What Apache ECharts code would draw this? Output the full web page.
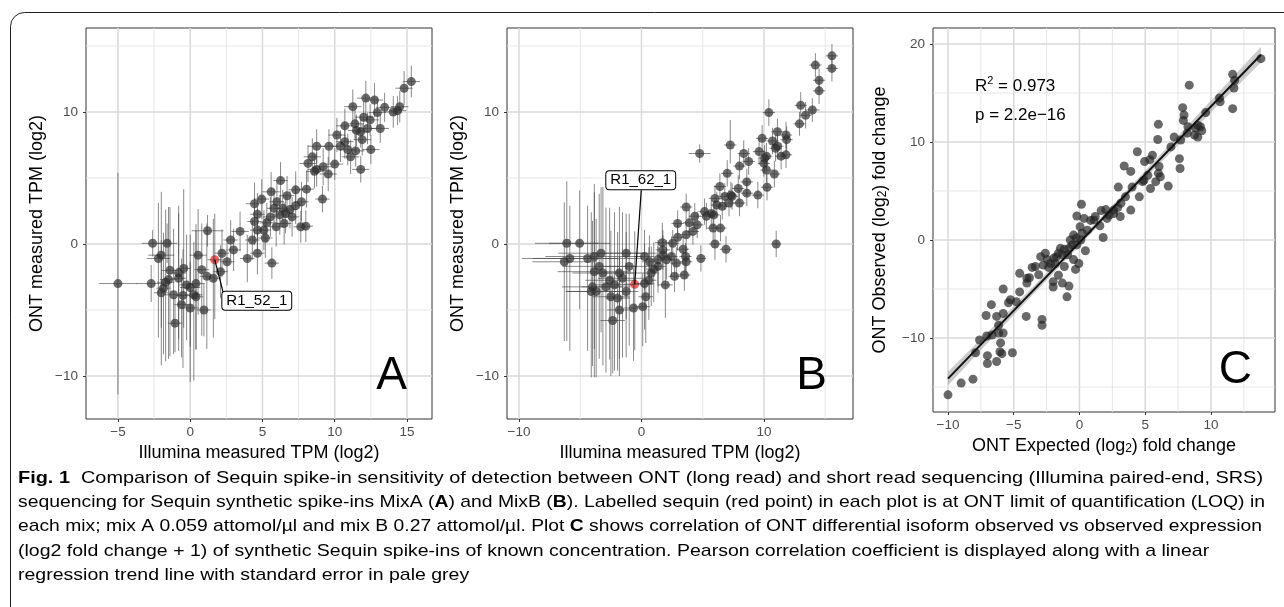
<!DOCTYPE html>
<html>
<head>
<meta charset="utf-8">
<title>Sequin spike-in detection: ONT vs Illumina</title>
<script src="https://cdn.jsdelivr.net/npm/echarts@6/dist/echarts.min.js"></script>
<style>
  html, body { margin: 0; padding: 0; background: #fff; }
  #main { width: 1284px; height: 607px; }
</style>
</head>
<body>
<div id="main"></div>
<script>
// ---- data ----
// mix A / mix B: [illumina log2 TPM, ONT log2 TPM, x error, y error up, y error down]
var mixA = [
  [-5.0,-3.0,1.3,8.4,8.4],[-2.6,0.05,0.75,1.0,1.0],[-2.7,-3.0,1.05,1.4,1.4],[-1.6,0.05,0.7,1.5,1.5],
  [-2.0,-0.85,0.9,4.8,5.5],[-2.2,-1.1,0.8,4.2,6.0],[-1.4,-2.0,0.6,4.8,6.5],[-0.45,-1.85,0.5,6.0,4.5],
  [-1.5,-2.7,0.6,5.5,6.0],[-0.8,-2.6,0.5,5.5,5.5],[-1.85,-3.35,0.5,4.2,5.0],[-1.15,-3.85,0.6,5.0,4.5],
  [-0.25,-3.1,0.5,3.8,4.2],[0.0,-3.3,0.7,4.0,4.5],[0.25,-3.85,0.6,4.0,6.5],[0.0,-4.85,0.6,3.5,5.6],
  [0.95,-5.0,0.5,2.0,2.0],[-1.05,-6.0,0.5,2.0,2.2],[0.55,-0.85,0.6,3.5,4.5],[1.2,1.0,1.1,1.2,1.2],
  [0.8,-1.95,0.5,3.5,5.0],[1.15,-2.45,0.5,4.0,5.5],[1.6,-2.6,0.5,4.5,4.5],[2.2,-0.7,0.5,1.8,1.8],
  [2.55,-1.35,0.5,1.8,1.8],[2.8,0.3,0.5,1.5,1.5],[3.0,-0.45,0.5,1.6,1.6],[3.45,0.95,0.6,1.5,1.5],
  [4.3,0.3,0.5,1.5,1.5],[3.95,-1.1,0.5,1.8,1.8],[4.65,-0.7,0.5,1.6,1.6],[5.65,-1.45,0.5,1.2,1.2],
  [2.1,-2.1,0.5,2.0,2.0],[0.4,-3.0,0.6,4.5,5.0],[-0.6,-4.6,0.5,3.5,4.0],[0.4,-4.0,0.5,5.0,4.0],
  [-1.7,-2.9,0.6,5.5,6.0],[-2.0,-3.7,0.5,4.0,5.5],[-0.8,-2.2,0.5,4.5,5.0],[-0.5,-3.9,0.5,3.5,5.5],
  [4.45,3.05,0.6,1.6,1.6],[4.95,3.4,0.5,1.5,1.5],[4.65,2.25,0.5,1.6,1.6],[4.45,1.7,0.5,1.8,1.8],
  [4.65,1.05,0.5,1.6,1.6],[5.1,1.05,0.5,1.5,1.5],[5.2,0.45,0.5,1.5,1.5],[5.6,3.95,0.6,1.5,1.5],
  [5.55,2.05,0.5,1.5,1.5],[6.25,4.8,0.5,1.4,1.4],[6.2,2.2,0.5,1.5,1.5],[6.5,1.55,0.5,1.6,1.6],
  [6.7,3.65,0.5,1.5,1.5],[7.05,2.05,0.5,1.5,1.5],[7.3,4.1,0.5,1.4,1.4],[8.05,4.15,0.5,1.4,1.4],
  [7.7,3.2,0.5,1.5,1.5],[7.65,1.3,0.5,1.2,1.2],[8.0,1.35,0.5,1.2,1.2],[9.15,3.4,0.5,1.0,1.0],
  [5.95,1.3,0.5,1.5,1.5],[6.0,3.2,0.5,1.5,1.5],[6.4,2.7,0.5,1.4,1.4],[6.9,2.6,0.5,1.4,1.4],
  [5.8,2.7,0.5,1.5,1.5],[7.3,2.9,0.5,1.4,1.4],[6.6,2.3,0.5,1.5,1.5],[5.3,1.6,0.5,1.5,1.5],
  [8.15,6.1,0.6,1.4,1.4],[8.45,6.6,0.6,1.4,1.4],[8.75,5.65,0.6,1.3,1.3],[9.2,5.85,0.6,1.4,1.4],
  [8.75,7.4,0.6,1.3,1.3],[9.55,5.3,0.6,1.3,1.3],[9.6,7.4,0.6,1.3,1.3],[10.0,6.05,0.6,1.2,1.2],
  [10.15,8.25,0.6,1.3,1.3],[10.7,8.95,0.6,1.3,1.3],[10.7,7.75,0.6,1.3,1.3],[10.9,7.15,0.6,1.2,1.2],
  [11.1,6.6,0.6,1.3,1.3],[11.25,10.4,0.6,1.3,1.3],[11.4,9.1,0.6,1.2,1.2],[11.45,7.05,0.6,1.2,1.2],
  [11.8,5.65,0.6,1.0,1.0],[11.9,7.9,0.6,1.2,1.2],[12.0,9.6,0.6,1.2,1.2],[12.15,11.05,0.6,1.3,1.3],
  [12.27,8.75,0.6,1.2,1.2],[12.5,7.15,0.6,1.1,1.1],[12.45,9.4,0.6,1.2,1.2],[12.75,10.9,0.6,1.3,1.3],
  [12.95,9.95,0.6,1.2,1.2],[13.15,8.75,0.6,1.1,1.1],[13.45,10.35,0.6,1.1,1.1],[14.05,10.0,0.6,1.2,1.2],
  [14.5,10.4,0.6,1.2,1.2],[14.35,10.1,0.6,1.1,1.1],[14.8,11.8,0.6,1.3,1.3],[15.3,12.3,0.6,1.2,1.2],
  [11.5,8.6,0.6,1.2,1.2],[11.8,8.5,0.6,1.2,1.2],[10.4,7.4,0.6,1.2,1.2],[8.6,5.5,0.6,1.3,1.3]
];
var mixB = [
  [15.55,14.25,0.5,0.9,0.9],[15.55,13.3,0.5,1.0,1.0],[14.2,13.55,0.5,0.9,0.9],[14.5,12.4,0.5,0.9,0.9],
  [14.5,11.6,0.5,1.0,1.0],[13.0,10.5,0.5,1.0,1.0],[13.4,9.75,0.5,1.0,1.0],[13.95,10.15,0.6,0.9,0.9],
  [12.9,9.1,0.5,0.9,0.9],[10.4,9.95,0.5,1.0,1.0],[11.1,8.5,0.5,1.0,1.0],[11.8,8.25,0.5,1.0,1.0],
  [11.85,7.9,0.5,1.0,1.0],[11.4,6.65,0.5,1.0,1.0],[11.8,6.75,0.5,1.0,1.0],[10.7,7.8,0.5,1.0,1.0],
  [10.95,7.25,0.5,1.0,1.0],[11.1,7.4,0.5,1.0,1.0],[9.85,8.0,0.5,1.0,1.0],[9.6,7.0,0.5,1.0,1.0],
  [10.05,6.5,0.5,1.0,1.0],[10.2,6.65,0.5,1.0,1.0],[10.0,6.1,0.5,1.0,1.0],[10.2,5.6,0.5,1.0,1.0],
  [10.85,5.3,0.5,1.0,1.0],[10.25,4.3,0.5,1.0,1.0],[9.5,3.7,0.5,1.0,1.0],[8.35,6.85,0.5,1.0,1.0],
  [8.0,5.9,0.5,1.0,1.0],[8.75,6.25,0.5,1.0,1.0],[8.6,4.7,0.5,1.0,1.0],[8.6,3.85,0.5,1.0,1.0],
  [7.25,7.5,0.5,1.9,1.4],[7.0,5.35,0.5,1.0,1.0],[6.4,4.35,0.5,1.0,1.0],[6.8,3.6,0.5,1.0,1.0],
  [7.3,3.7,0.5,1.0,1.0],[7.4,3.6,0.5,1.0,1.0],[7.9,4.2,0.5,1.0,1.0],[8.0,3.1,0.5,1.0,1.0],
  [7.15,3.1,0.5,1.0,1.0],[6.6,2.85,0.5,1.0,1.0],[6.0,3.45,0.5,1.0,1.0],[6.15,2.95,0.5,1.0,1.0],
  [5.9,2.2,0.5,1.0,1.0],[5.7,2.3,0.5,1.0,1.0],[5.85,1.2,0.5,1.0,1.0],[6.45,1.2,0.5,1.0,1.0],
  [5.15,2.45,0.5,1.0,1.0],[5.3,2.1,0.5,1.0,1.0],[4.75,6.85,0.9,0.7,0.7],[3.65,2.8,0.5,1.0,1.0],
  [4.35,2.1,0.5,1.0,1.0],[3.9,1.6,0.5,1.0,1.0],[4.55,1.45,0.5,1.0,1.0],[4.2,0.95,0.5,1.0,1.0],
  [3.65,0.7,0.5,1.0,1.0],[2.95,1.55,0.5,1.0,1.0],[2.95,0.5,0.5,1.0,1.0],[2.55,0.05,0.5,1.0,1.0],
  [3.4,-0.4,0.5,1.0,1.2],[3.6,-0.95,0.5,1.0,1.2],[3.65,-1.35,0.5,1.0,1.2],[3.5,-2.35,0.5,1.0,1.2],
  [2.7,-2.45,0.5,1.2,1.2],[2.85,-1.45,0.5,1.2,1.2],[2.45,-0.95,0.5,1.5,1.5],[2.05,-1.2,0.6,1.5,1.5],
  [1.7,0.1,0.6,1.5,1.5],[1.75,-0.45,0.6,1.5,1.5],[1.75,-0.85,0.6,1.5,2.0],[1.35,-1.2,0.6,1.5,2.0],
  [1.35,-1.7,0.6,1.5,2.0],[1.0,-1.9,0.6,2.0,2.5],[0.8,-2.2,0.6,2.0,2.5],[0.6,-2.75,0.6,2.5,3.0],
  [0.25,-3.0,0.8,3.0,3.5],[0.25,-0.95,0.8,2.0,2.5],[0.65,-1.35,0.6,2.0,2.5],[4.85,-1.1,0.4,1.0,1.0],
  [6.0,0.0,0.5,1.0,1.2],[6.9,-0.4,0.5,1.0,1.0],[11.0,0.0,0.4,1.0,1.0],[1.95,-3.1,0.6,2.0,2.5],
  [0.35,-4.0,0.6,2.5,3.5],[0.1,-4.75,0.6,2.5,3.0],[-0.65,-4.85,0.8,3.0,4.0],[-1.25,-3.6,1.0,4.5,5.0],
  [-1.8,-5.0,1.0,4.0,5.0],[-1.95,-4.1,1.0,5.0,5.5],[-2.35,-5.8,1.0,3.5,4.0],[-1.55,-2.6,2.0,5.0,6.0],
  [-2.2,-3.1,1.5,5.5,6.5],[-2.6,-2.75,2.0,5.5,6.0],[-2.9,-3.25,2.0,6.0,6.5],[-3.15,-2.2,2.5,6.5,7.0],
  [-3.45,-1.7,3.0,5.5,7.0],[-3.3,-0.7,3.5,5.0,6.0],[-3.85,-0.95,4.0,5.5,7.0],[-3.85,-2.1,3.0,6.0,8.0],
  [-4.0,-3.25,2.5,5.0,6.0],[-4.1,-3.6,2.0,6.0,6.5],[-3.7,-3.6,2.5,5.5,6.5],[-4.4,-1.1,4.5,4.0,7.0],
  [-5.05,0.05,2.5,4.0,5.0],[-6.1,0.05,2.6,4.7,7.4],[-5.85,-1.1,3.9,4.0,7.0],[-6.3,-1.35,2.6,4.5,6.0],
  [-1.25,-0.7,2.5,3.0,5.0],[-1.0,-1.7,2.0,4.0,6.0],[-1.8,-2.2,2.0,5.0,6.5],[-2.5,-4.0,1.5,5.0,6.0]
];
// labelled sequins at the ONT limit of quantification
var loqA = { name: 'R1_52_1', point: [1.7, -1.2, 0.5, 3.5, 4.5] };
var loqB = { name: 'R1_62_1', point: [-0.55, -3.05, 1.5, 4.0, 5.0] };

// panel C: [expected log2 fold change, observed log2 fold change]
var foldChange = [
  [-10.0,-15.8],[-9.0,-14.6],[-8.1,-14.2],[-7.9,-11.5],[-7.6,-10.2],[-7.1,-7.7],[-6.7,-6.6],[-7.05,-9.8],
  [-7.0,-11.8],[-7.0,-12.6],[-6.3,-12.4],[-6.3,-7.8],[-6.15,-8.7],[-5.8,-5.0],[-5.8,-7.5],[-5.8,-9.5],
  [-6.0,-10.5],[-5.9,-11.6],[-5.4,-6.4],[-5.1,-11.5],[-4.8,-6.3],[-4.55,-5.3],[-4.05,-7.8],[-4.0,-4.4],
  [-3.8,-3.85],[-3.6,-2.8],[-2.85,-8.1],[-2.85,-8.7],[-2.95,-1.7],[-2.75,-2.55],[-2.45,-2.0],[-2.35,-2.8],
  [-2.0,-4.25],[-2.0,-4.8],[-1.75,-1.7],[-1.6,-3.6],[-1.45,-0.85],[-1.3,-4.4],[-1.15,-2.7],[-0.95,-5.8],
  [-0.8,-4.7],[-0.9,-1.5],[-0.55,-0.5],[-0.45,-2.0],[-0.3,-3.0],[-0.25,0.2],[-0.2,2.45],[-0.05,-2.4],
  [0.05,1.35],[0.15,3.65],[0.2,0.7],[0.35,2.2],[0.45,-1.1],[0.6,1.0],[0.85,2.0],[1.2,2.4],
  [1.55,1.45],[1.65,3.0],[1.8,0.25],[2.0,3.1],[2.1,2.2],[2.9,3.3],[2.95,5.4],[3.1,2.4],
  [3.4,7.55],[3.9,7.0],[3.9,3.05],[4.0,5.4],[4.4,9.0],[4.55,4.4],[4.8,5.95],[4.95,8.0],
  [5.4,5.25],[5.55,8.65],[5.8,5.95],[5.95,10.25],[6.0,11.8],[6.0,6.8],[6.15,6.45],[6.75,5.5],
  [6.95,9.5],[7.2,10.5],[7.65,7.3],[7.85,13.5],[7.9,12.2],[7.95,12.75],[8.25,11.55],[8.35,15.8],
  [8.2,10.9],[8.85,11.4],[9.0,10.5],[9.2,11.55],[9.3,11.15],[9.6,13.0],[10.65,14.5],[10.7,14.1],
  [11.65,13.4],[11.75,15.5],[11.65,16.9],[11.8,16.3],[13.8,18.5],
  [-1.85,-2.4],[-2.2,-2.4],[-1.3,-1.5],[-0.8,-0.85],[-0.7,0.0],[-0.45,0.5],[0.1,0.0],[-0.2,-0.5],
  [-1.15,-0.95],[-1.6,-1.35],[-1.95,-1.85],[-2.6,-1.35],[-3.35,-2.7],[-3.1,-3.55],[-4.55,-3.4],[-4.0,-3.9],
  [-5.25,-6.1],[-6.65,-9.7],[-6.05,-11.4],[-6.15,-9.5],[4.9,6.1],[5.2,6.6],[6.05,7.5],[5.35,8.2],
  [7.6,8.3],[8.75,10.7],[9.0,11.7],[7.7,10.2],[3.15,3.75],[3.5,4.4],[2.6,3.05],[1.1,2.05],
  [2.25,2.55],[2.6,2.7]
];
var statR2 = '0.973';
var statP = '2.2e\u221216';

// tick values (major breaks carry labels, minor breaks only a thin grid line)
var ticksAx = [-5, 0, 5, 10, 15], minorAx = [-2.5, 2.5, 7.5, 12.5];
var ticksBx = [-10, 0, 10], minorBx = [-5, 5, 15];
var ticksABy = [-10, 0, 10], minorABy = [-5, 5, 15];
var ticksCx = [-10, -5, 0, 5, 10], minorCx = [-7.5, -2.5, 2.5, 7.5, 12.5];
var ticksCy = [-10, 0, 10, 20], minorCy = [-15, -5, 5, 15];

var captionLines = [
  '{b|Fig. 1}{n|  Comparison of Sequin spike-in sensitivity of detection between ONT (long read) and short read sequencing (Illumina paired-end, SRS)}',
  '{n|sequencing for Sequin synthetic spike-ins MixA (}{b|A}{n|) and MixB (}{b|B}{n|). Labelled sequin (red point) in each plot is at ONT limit of quantification (LOQ) in}',
  '{n|each mix; mix A 0.059 attomol/\u00b5l and mix B 0.27 attomol/\u00b5l. Plot }{b|C}{n| shows correlation of ONT differential isoform observed vs observed expression}',
  '{n|(log2 fold change + 1) of synthetic Sequin spike-ins of known concentration. Pearson correlation coefficient is displayed along with a linear}',
  '{n|regression trend line with standard error in pale grey}'
];
var captionRight = [1263, 1265, 1262];   // justified lines end here; the rest use the mean squeeze

// ---- chart ----
var FONT = '"Liberation Sans", Arial, sans-serif';
var chart = echarts.init(document.getElementById('main'), null, { renderer: 'canvas' });

function fmt(v) { return String(v).replace('-', '\u2212'); }

function axis(gridIndex, min, max, majors, name, gap, isY) {
  return {
    type: 'value', gridIndex: gridIndex, min: min, max: max,
    name: name, nameLocation: 'middle', nameGap: gap, nameRotate: isY ? 90 : 0,
    nameTextStyle: { fontSize: 18, color: '#000', fontFamily: FONT,
      rich: { sub: { fontSize: 12, fontFamily: FONT, verticalAlign: 'bottom', color: '#000' } } },
    axisLine: { show: false, onZero: false },
    axisTick: { show: true, length: 3, lineStyle: { color: '#333' }, customValues: majors },
    axisLabel: { customValues: majors, color: '#4d4d4d', fontSize: 13.5, fontFamily: FONT,
      margin: isY ? 8 : 6, formatter: fmt },
    splitLine: { show: false }
  };
}

// panel grid lines: one plain line series per break, spanning the axis range
function gridLines(idx, xr, yr, xMaj, xMin, yMaj, yMin) {
  var out = [];
  function add(pts, major) {
    out.push({
      type: 'line', xAxisIndex: idx, yAxisIndex: idx, silent: true, z: 1, symbol: 'none',
      lineStyle: { color: major ? '#d8d8d8' : '#e4e4e4', width: major ? 1.5 : 0.9, opacity: 1 },
      data: pts
    });
  }
  xMaj.forEach(function (v) { add([[v, yr[0]], [v, yr[1]]], true); });
  xMin.forEach(function (v) { add([[v, yr[0]], [v, yr[1]]], false); });
  yMaj.forEach(function (v) { add([[xr[0], v], [xr[1], v]], true); });
  yMin.forEach(function (v) { add([[xr[0], v], [xr[1], v]], false); });
  return out;
}

function errorBars(rows, idx) {
  return {
    type: 'custom', xAxisIndex: idx, yAxisIndex: idx, clip: true, silent: true, z: 4,
    data: rows, encode: { x: 0, y: 1 },
    renderItem: function (params, api) {
      var x = api.value(0), y = api.value(1);
      var l = api.coord([x - api.value(2), y]), r = api.coord([x + api.value(2), y]);
      var t = api.coord([x, y + api.value(3)]), b = api.coord([x, y - api.value(4)]);
      var st = { stroke: 'rgba(60,60,60,0.6)', lineWidth: 1 };
      return { type: 'group', children: [
        { type: 'line', shape: { x1: l[0], y1: l[1], x2: r[0], y2: r[1] }, style: st },
        { type: 'line', shape: { x1: t[0], y1: t[1], x2: b[0], y2: b[1] }, style: st }
      ] };
    }
  };
}

function points(rows, idx, color, size) {
  return {
    type: 'scatter', xAxisIndex: idx, yAxisIndex: idx, silent: true, z: 3,
    symbolSize: size, itemStyle: { color: color },
    data: rows.map(function (p) { return [p[0], p[1]]; })
  };
}

// linear fit with standard error band for panel C
var n = foldChange.length, sx = 0, sy = 0;
foldChange.forEach(function (p) { sx += p[0]; sy += p[1]; });
var mx = sx / n, my = sy / n, sxx = 0, sxy = 0;
foldChange.forEach(function (p) { sxx += (p[0] - mx) * (p[0] - mx); sxy += (p[0] - mx) * (p[1] - my); });
var slope = sxy / sxx, icpt = my - slope * mx, sse = 0;
foldChange.forEach(function (p) { var e = p[1] - icpt - slope * p[0]; sse += e * e; });
var sres = Math.sqrt(sse / (n - 2));
var xs = foldChange.map(function (p) { return p[0]; });
var x0 = Math.min.apply(null, xs), x1 = Math.max.apply(null, xs);
var band = [];
for (var i = 0; i <= 40; i++) {
  var xv = x0 + (x1 - x0) * i / 40;
  var se = 1.97 * sres * Math.sqrt(1 / n + (xv - mx) * (xv - mx) / sxx);
  var fit = icpt + slope * xv;
  band.push([xv, fit - se, fit + se]);
}

var rangeAx = [-7.21, 16.73], rangeBx = [-10.98, 17.27], rangeABy = [-13.26, 16.36];
var rangeCx = [-11.14, 14.87], rangeCy = [-17.55, 21.63];
var gridStyle = { show: true, borderColor: '#333', borderWidth: 1, backgroundColor: 'transparent' };

chart.setOption({
  animation: false,
  backgroundColor: '#fff',
  grid: [
    Object.assign({ left: 86, top: 28, width: 346, height: 391 }, gridStyle),
    Object.assign({ left: 507, top: 28, width: 346, height: 391 }, gridStyle),
    Object.assign({ left: 933, top: 28, width: 342, height: 384 }, gridStyle)
  ],
  xAxis: [
    axis(0, rangeAx[0], rangeAx[1], ticksAx, 'Illumina measured TPM (log2)', 22, false),
    axis(1, rangeBx[0], rangeBx[1], ticksBx, 'Illumina measured TPM (log2)', 22, false),
    axis(2, rangeCx[0], rangeCx[1], ticksCx, 'ONT Expected (log{sub|2}) fold change', 18, false)
  ],
  yAxis: [
    axis(0, rangeABy[0], rangeABy[1], ticksABy, 'ONT measured TPM (log2)', 40, true),
    axis(1, rangeABy[0], rangeABy[1], ticksABy, 'ONT measured TPM (log2)', 40, true),
    axis(2, rangeCy[0], rangeCy[1], ticksCy, 'ONT Observed (log{sub|2}) fold change', 44, true)
  ],
  series: [].concat(
    gridLines(0, rangeAx, rangeABy, ticksAx, minorAx, ticksABy, minorABy),
    gridLines(1, rangeBx, rangeABy, ticksBx, minorBx, ticksABy, minorABy),
    gridLines(2, rangeCx, rangeCy, ticksCx, minorCx, ticksCy, minorCy),
    [
      points(mixA, 0, 'rgba(30,30,30,0.82)', 9),
      errorBars(mixA.concat([loqA.point]), 0),
      points([loqA.point], 0, 'rgba(255,20,20,0.85)', 9),
      points(mixB, 1, 'rgba(30,30,30,0.82)', 9),
      errorBars(mixB.concat([loqB.point]), 1),
      points([loqB.point], 1, 'rgba(255,20,20,0.85)', 9),
      {
        type: 'custom', xAxisIndex: 2, yAxisIndex: 2, silent: true, z: 2,
        data: band, encode: { x: 0, y: [1, 2] },
        renderItem: function (params, api) {
          if (params.dataIndex !== 0) return null;
          var up = band.map(function (r) { return api.coord([r[0], r[2]]); });
          var lo = band.map(function (r) { return api.coord([r[0], r[1]]); }).reverse();
          return { type: 'polygon', shape: { points: up.concat(lo) }, style: { fill: 'rgba(140,140,140,0.45)' } };
        }
      },
      points(foldChange, 2, 'rgba(35,35,35,0.85)', 9),
      {
        type: 'line', xAxisIndex: 2, yAxisIndex: 2, silent: true, z: 5, symbol: 'none',
        lineStyle: { color: '#111', width: 2 },
        data: [[x0, icpt + slope * x0], [x1, icpt + slope * x1]]
      }
    ]
  )
});

// ---- annotations placed through the chart's coordinates ----
function px(grid, xy) { return chart.convertToPixel({ gridIndex: grid }, xy); }

function tag(grid, loq, boxOff, lineOff) {
  var p = px(grid, [loq.point[0], loq.point[1]]);
  return [
    { type: 'line', z: 10, shape: { x1: p[0], y1: p[1], x2: p[0] + lineOff[0], y2: p[1] + lineOff[1] },
      style: { stroke: '#000', lineWidth: 1.2 } },
    { type: 'text', z: 11, x: p[0] + boxOff[0], y: p[1] + boxOff[1],
      style: { text: loq.name, font: '15px ' + FONT, fill: '#000', align: 'center', verticalAlign: 'middle',
        backgroundColor: '#fff', borderColor: '#000', borderWidth: 1, borderRadius: 3, padding: [2, 4, 1, 4] } }
  ];
}

var gA = chart.getModel().getComponent('grid', 0).coordinateSystem.getRect();
var gB = chart.getModel().getComponent('grid', 1).coordinateSystem.getRect();
var gC = chart.getModel().getComponent('grid', 2).coordinateSystem.getRect();

function letter(t, rect, dx, dy) {
  return { type: 'text', z: 10, x: rect.x + rect.width - dx, y: rect.y + rect.height - dy,
    style: { text: t, font: '46px ' + FONT, fill: '#000', align: 'right', verticalAlign: 'middle' } };
}

// caption: lines squeezed horizontally to the printed (condensed) width
var CAP = 17;
var ctx = document.createElement('canvas').getContext('2d');
function measure(line) {
  var w = 0, re = /\{(\w)\|([^}]*)\}/g, m;
  while ((m = re.exec(line))) {
    ctx.font = (m[1] === 'b' ? 'bold ' : '') + CAP + 'px ' + FONT;
    w += ctx.measureText(m[2]).width;
  }
  return w;
}
var squeezes = captionRight.map(function (r, k) { return (r - 18) / measure(captionLines[k]); });
var meanSqueeze = squeezes.reduce(function (a, b) { return a + b; }, 0) / squeezes.length;
var captionRich = {
  n: { fontSize: CAP, fontFamily: FONT, color: '#231f20' },
  b: { fontSize: CAP, fontFamily: FONT, fontWeight: 'bold', color: '#231f20' }
};
var caption = captionLines.map(function (line, k) {
  return { type: 'text', x: 18, y: 478 + k * 24.3, z: 10,
    scaleX: k < squeezes.length ? squeezes[k] : meanSqueeze,
    style: { text: line, rich: captionRich, verticalAlign: 'middle', align: 'left' } };
});

var graphics = [
  { type: 'rect', z: 0, shape: { x: 10.5, y: 12.5, width: 1320, height: 700, r: 14 },
    style: { fill: 'none', stroke: '#231f20', lineWidth: 1 } },
  letter('A', gA, 25, 42.5), letter('B', gB, 26, 42.5), letter('C', gC, 23, 42),
  { type: 'text', z: 10, x: gC.x + 42, y: gC.y + 58,
    style: { text: '{n|R}{s|2}{n| = ' + statR2 + '}', verticalAlign: 'middle',
      rich: { n: { fontSize: 17, fontFamily: FONT, color: '#000', lineHeight: 22 },
              s: { fontSize: 11, fontFamily: FONT, color: '#000', verticalAlign: 'top', lineHeight: 22 } } } },
  { type: 'text', z: 10, x: gC.x + 42, y: gC.y + 87,
    style: { text: 'p = ' + statP, font: '17px ' + FONT, fill: '#000', verticalAlign: 'middle' } }
].concat(tag(0, loqA, [42, 41], [8.5, 33]), tag(1, loqB, [6, -104], [6.5, -94]), caption);

chart.setOption({ graphic: graphics });
</script>
</body>
</html>
